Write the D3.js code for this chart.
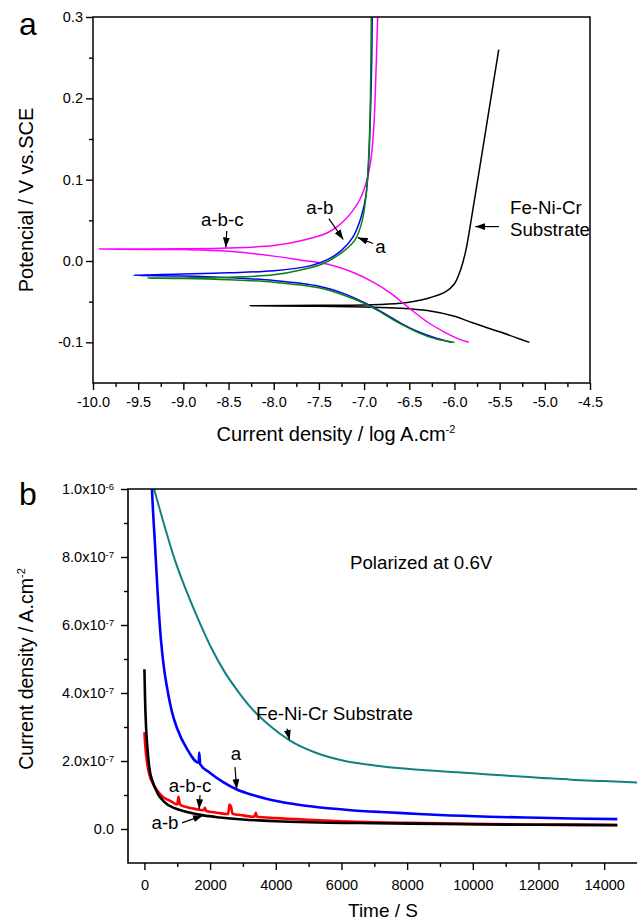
<!DOCTYPE html>
<html>
<head>
<meta charset="utf-8">
<script src="https://cdn.jsdelivr.net/npm/d3@7"></script>
<style>
  body { margin: 0; background: #fff; }
  svg text { font-family: "Liberation Sans", Arial, sans-serif; fill: #000; }
</style>
</head>
<body>
<svg id="chart" width="637" height="921"></svg>
<script>
// ---------- panel a : Tafel curves [log i, E] ----------
// each curve: cathodic end -> E_corr tip -> anodic end
const curveA = [ // green
  [-6.0,-0.1],[-6.2,-0.096],[-6.4,-0.088],[-6.6,-0.077],[-6.8,-0.064],[-7.0,-0.052],[-7.2,-0.043],
  [-7.5,-0.033],[-8.0,-0.026],[-8.5,-0.023],[-9.0,-0.0215],[-9.39,-0.021],
  [-9.0,-0.0208],[-8.5,-0.020],[-8.0,-0.017],[-7.7,-0.011],[-7.45,-0.003],[-7.25,0.01],[-7.1,0.026],
  [-7.02,0.05],[-6.97,0.09],[-6.945,0.14],[-6.93,0.2],[-6.92,0.3]
];
const curveAB = [ // blue
  [-6.03,-0.1],[-6.2,-0.095],[-6.4,-0.087],[-6.6,-0.076],[-6.8,-0.063],[-7.0,-0.051],[-7.2,-0.041],
  [-7.5,-0.031],[-8.0,-0.024],[-8.5,-0.0205],[-9.0,-0.0185],[-9.55,-0.0175],
  [-9.0,-0.016],[-8.5,-0.0145],[-8.0,-0.012],[-7.6,-0.006],[-7.4,0.002],[-7.25,0.013],[-7.12,0.03],
  [-7.03,0.055],[-6.98,0.08],[-6.95,0.12],[-6.93,0.18],[-6.915,0.25],[-6.91,0.3]
];
const curveABC = [ // magenta
  [-5.84,-0.1],[-5.95,-0.096],[-6.1,-0.088],[-6.3,-0.075],[-6.5,-0.058],[-6.7,-0.04],[-6.9,-0.026],
  [-7.1,-0.015],[-7.4,-0.004],[-7.7,0.001],[-8.0,0.006],[-8.5,0.012],[-9.0,0.014],[-9.93,0.0147],
  [-9.0,0.015],[-8.5,0.016],[-8.0,0.019],[-7.7,0.025],[-7.4,0.035],[-7.2,0.052],[-7.05,0.075],
  [-6.98,0.095],[-6.93,0.12],[-6.895,0.16],[-6.875,0.21],[-6.85,0.3]
];
const curveSub = [ // black
  [-5.17,-0.1],[-5.5,-0.087],[-5.8,-0.076],[-6.0,-0.068],[-6.3,-0.061],[-6.6,-0.058],[-7.0,-0.0565],
  [-7.5,-0.0555],[-8.26,-0.055],
  [-7.5,-0.0545],[-7.0,-0.054],[-6.6,-0.052],[-6.3,-0.046],[-6.1,-0.038],[-6.0,-0.028],[-5.93,-0.01],
  [-5.88,0.01],[-5.83,0.04],[-5.72,0.115],[-5.51,0.26]
];
const xTicksA = [-10.0,-9.5,-9.0,-8.5,-8.0,-7.5,-7.0,-6.5,-6.0,-5.5,-5.0,-4.5];
const yTicksA = [-0.1,0.0,0.1,0.2,0.3];

// ---------- panel b : current transients [t (s), i (1e-7 A/cm2)] ----------
const transSub = [ // teal
  [150,10.5],[292,10.0],[600,8.95],[931,7.9],[1300,6.95],[1692,6.05],[2050,5.3],[2454,4.6],[2850,4.05],
  [3215,3.6],[3800,3.05],[4433,2.6],[5200,2.25],[6108,2.0],[7000,1.87],[8000,1.77],[9000,1.7],
  [10000,1.64],[11000,1.57],[12000,1.51],[13000,1.45],[14000,1.41],[15000,1.37]
];
const transA = [ // blue
  [180,11.5],[231,10.0],[320,8.4],[400,7.0],[500,5.6],[600,4.7],[700,4.1],[850,3.4],[1000,2.95],
  [1300,2.35],[1650,1.95],[1670,2.25],[1700,1.9],[2000,1.65],[2400,1.38],[2800,1.17],[3300,1.0],
  [3800,0.87],[4500,0.74],[5350,0.63],[6200,0.56],[7200,0.5],[8000,0.46],[9000,0.41],[10500,0.36],
  [12000,0.33],[13000,0.31],[14400,0.29]
];
const transAB = [ // black
  [0,4.7],[20,3.8],[50,3.0],[90,2.4],[150,1.8],[250,1.4],[400,1.05],[600,0.8],[900,0.62],[1300,0.5],
  [1800,0.4],[2300,0.34],[3000,0.28],[4000,0.23],[5000,0.2],[7000,0.17],[9000,0.15],[11000,0.13],
  [13000,0.12],[14400,0.11]
];
const transABC = [ // red
  [0,2.85],[30,2.4],[80,1.95],[150,1.6],[250,1.35],[380,1.15],[500,1.0],[600,0.92],[800,0.82],
  [1000,0.72],[1040,0.95],[1080,0.72],[1300,0.64],[1500,0.6],[1800,0.55],[1840,0.62],[1880,0.53],
  [2200,0.48],[2550,0.44],[2590,0.72],[2640,0.65],[2680,0.45],[3000,0.4],[3350,0.36],[3390,0.48],
  [3430,0.36],[4000,0.32],[5000,0.27],[6000,0.23],[7000,0.2],[8000,0.18],[10000,0.15],[12000,0.13],
  [14400,0.12]
];
const xTicksB = [0,2000,4000,6000,8000,10000,12000,14000];
const yTicksB = [0,2e-7,4e-7,6e-7,8e-7,1e-6];

const svg = d3.select("#chart");

// arrow head marker
svg.append("defs").append("marker")
    .attr("id","arrow")
    .attr("markerUnits","userSpaceOnUse")
    .attr("markerWidth",10).attr("markerHeight",7)
    .attr("refX",10).attr("refY",3.5)
    .attr("orient","auto")
  .append("path").attr("d","M0,0 L10,3.5 L0,7 Z").attr("fill","#000");

function drawAxisTicks(g, axis){
    g.call(axis);
    g.select(".domain").remove();
    g.selectAll("line").attr("stroke","#000").attr("stroke-width",1.4);
    g.selectAll("text").style("font-size","14.5px").attr("fill","#000");
}

// ============ panel a ============
const xa = d3.scaleLinear().domain([-10,-4.5]).range([93,590]);
const ya = d3.scaleLinear().domain([-0.15,0.3]).range([383,17]);

const ga = svg.append("g");
ga.append("clipPath").attr("id","clipA").append("rect")
    .attr("x",93).attr("y",17).attr("width",497).attr("height",366);

const lineA = d3.line().x(d=>xa(d[0])).y(d=>ya(d[1])).curve(d3.curveCatmullRom.alpha(0.5));
[[curveSub,"#000"],[curveABC,"#ff00ff"],[curveAB,"#0000ff"],[curveA,"#0a820a"]].forEach(([data,col])=>{
    ga.append("path").datum(data)
        .attr("clip-path","url(#clipA)")
        .attr("d",lineA).attr("fill","none")
        .attr("stroke",col).attr("stroke-width",1.5);
});

ga.append("rect").attr("x",93).attr("y",17).attr("width",497).attr("height",366)
    .attr("fill","none").attr("stroke","#000").attr("stroke-width",1.5);

drawAxisTicks(ga.append("g").attr("transform","translate(0,383)"),
    d3.axisBottom(xa).tickValues(xTicksA).tickSize(7).tickPadding(7).tickFormat(d=>d.toFixed(1)));
drawAxisTicks(ga.append("g").attr("transform","translate(0,383)"),
    d3.axisBottom(xa).tickValues(d3.range(-9.75,-4.5,0.5)).tickSize(4).tickFormat(""));
drawAxisTicks(ga.append("g").attr("transform","translate(93,0)"),
    d3.axisLeft(ya).tickValues(yTicksA).tickSize(7).tickPadding(3).tickFormat(d=>d.toFixed(1)));
drawAxisTicks(ga.append("g").attr("transform","translate(93,0)"),
    d3.axisLeft(ya).tickValues([-0.05,0.05,0.15,0.25]).tickSize(4).tickFormat(""));

ga.append("text").attr("x",19).attr("y",35).style("font-size","32px").text("a");

const xtA = ga.append("text").attr("x",336).attr("y",441).attr("text-anchor","middle").style("font-size","20px");
xtA.append("tspan").text("Current density / log A.cm");
xtA.append("tspan").attr("dy",-8).style("font-size","11px").text("-2");

ga.append("text").attr("transform","translate(33,200) rotate(-90)")
    .attr("text-anchor","middle").style("font-size","20px").text("Potencial / V vs.SCE");

function note(g, sx, sy, txt, pos, from, to, anchor){
    g.append("text").attr("x",sx(pos[0])).attr("y",sy(pos[1]))
        .attr("text-anchor",anchor || "middle").style("font-size","18.7px").text(txt);
    if(from){
        g.append("line")
            .attr("x1",sx(from[0])).attr("y1",sy(from[1]))
            .attr("x2",sx(to[0])).attr("y2",sy(to[1]))
            .attr("stroke","#000").attr("stroke-width",1.2)
            .attr("marker-end","url(#arrow)");
    }
}
note(ga, xa, ya, "a-b-c", [-8.57,0.0436], [-8.52,0.037], [-8.53,0.0166]);
note(ga, xa, ya, "a-b", [-7.49,0.0583], [-7.39,0.052], [-7.23,0.0264]);
note(ga, xa, ya, "a", [-6.82,0.0104], [-6.90,0.0215], [-7.07,0.0288]);
note(ga, xa, ya, "Fe-Ni-Cr", [-5.385,0.0583], null, null, "start");
note(ga, xa, ya, "Substrate", [-5.385,0.031], [-5.507,0.0423], [-5.77,0.0423], "start");

// ============ panel b ============
const xb = d3.scaleLinear().domain([-500,15000]).range([128,637]);
const yb = d3.scaleLinear().domain([-1e-7,1e-6]).range([863,489]);

const gb = svg.append("g");
gb.append("clipPath").attr("id","clipB").append("rect")
    .attr("x",128).attr("y",489).attr("width",509).attr("height",374);

const lineB = d3.line().x(d=>xb(d[0])).y(d=>yb(d[1]*1e-7)).curve(d3.curveMonotoneX);
[[transSub,"#108080",2],[transA,"#0000ff",2.6],[transABC,"#ff0000",2.6],[transAB,"#000",2.6]].forEach(([data,col,w])=>{
    gb.append("path").datum(data)
        .attr("clip-path","url(#clipB)")
        .attr("d",lineB).attr("fill","none")
        .attr("stroke",col).attr("stroke-width",w);
});

gb.append("path").attr("d","M637,489 H128 V863 H637")
    .attr("fill","none").attr("stroke","#000").attr("stroke-width",1.6);

drawAxisTicks(gb.append("g").attr("transform","translate(0,863)"),
    d3.axisBottom(xb).tickValues(xTicksB).tickSize(7).tickPadding(10).tickFormat(d=>d));
drawAxisTicks(gb.append("g").attr("transform","translate(0,863)"),
    d3.axisBottom(xb).tickValues(d3.range(1000,15000,2000)).tickSize(4).tickFormat(""));
const yAxB = gb.append("g").attr("transform","translate(128,0)");
drawAxisTicks(yAxB, d3.axisLeft(yb).tickValues(yTicksB).tickSize(7).tickPadding(7).tickFormat(""));
yAxB.selectAll(".tick text").each(function(d){
    const t = d3.select(this);
    if(d === 0){ t.text("0.0"); return; }
    const e = Math.floor(Math.log10(d) + 1e-9);
    const m = d / Math.pow(10,e);
    t.append("tspan").text(m.toFixed(1) + "x10");
    t.append("tspan").attr("dy","-0.45em").style("font-size","9.5px").text(e);
});
drawAxisTicks(gb.append("g").attr("transform","translate(128,0)"),
    d3.axisLeft(yb).tickValues([1e-7,3e-7,5e-7,7e-7,9e-7]).tickSize(4).tickFormat(""));

gb.append("text").attr("x",19).attr("y",505).style("font-size","32px").text("b");

gb.append("text").attr("x",383).attr("y",917).attr("text-anchor","middle")
    .style("font-size","19px").text("Time / S");

const ytB = gb.append("text").attr("transform","translate(33,669) rotate(-90)")
    .attr("text-anchor","middle").style("font-size","19.5px");
ytB.append("tspan").text("Current density / A.cm");
ytB.append("tspan").attr("dy",-8).style("font-size","11px").text("-2");

const yIb = d3.scaleLinear().domain([-1,10]).range([863,489]); // annotation helper in 1e-7 units
note(gb, xb, yIb, "Polarized at 0.6V", [6260,7.65], null, null, "start");
note(gb, xb, yIb, "Fe-Ni-Cr Substrate", [3398,3.2], [4342,2.95], [4420,2.62], "start");
note(gb, xb, yIb, "a", [2789,2.03], [2758,1.82], [2810,1.17]);
note(gb, xb, yIb, "a-b-c", [1388,1.09], [1693,1.0], [1665,0.58]);
note(gb, xb, yIb, "a-b", [627,0.0], [1144,0.18], [1784,0.4]);
</script>
</body>
</html>
